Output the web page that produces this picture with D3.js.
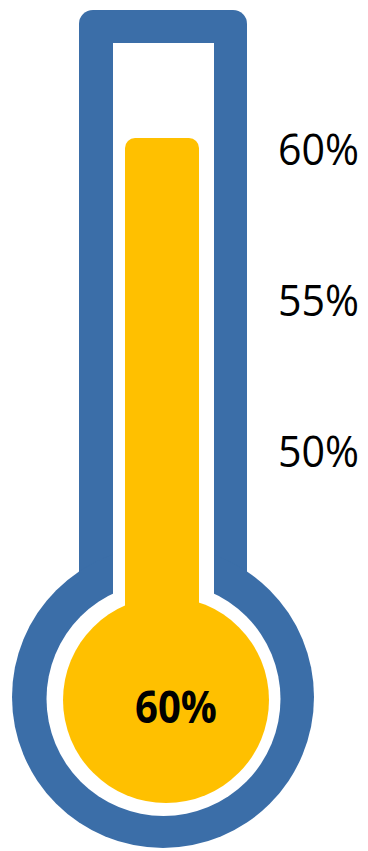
<!DOCTYPE html>
<html>
<head>
<meta charset="utf-8">
<script src="https://cdn.jsdelivr.net/npm/d3@7"></script>
<style>
  html, body { margin: 0; padding: 0; background: #fff; }
</style>
</head>
<body>
<div id="chart"></div>
<script>
// data
var tickValues = [50, 55, 60];
var tickLabels = ['50%', '55%', '60%'];
var currentValue = 60;
var currentLabel = '60%';

var width = 368,
  height = 851;

var blue = '#3b6ea8',
  yellow = '#ffc000';

var svg = d3.select('#chart')
  .append('svg')
  .attr('width', width)
  .attr('height', height);

// value scale along the tube
var yScale = d3.scaleLinear()
  .domain([50, 60])
  .range([440, 138]);

// outer blue shape: tube + bulb
svg.append('rect')
  .attr('x', 79).attr('y', 10)
  .attr('width', 168).attr('height', 640)
  .attr('rx', 14)
  .attr('fill', blue);

svg.append('circle')
  .attr('cx', 163).attr('cy', 697).attr('r', 151)
  .attr('fill', blue);

// white inside
svg.append('rect')
  .attr('x', 113).attr('y', 43)
  .attr('width', 101).attr('height', 620)
  .attr('fill', '#fff');

svg.append('circle')
  .attr('cx', 163.5).attr('cy', 699).attr('r', 117)
  .attr('fill', '#fff');

// yellow mercury
var fillTop = yScale(currentValue);

svg.append('rect')
  .attr('x', 125).attr('y', fillTop)
  .attr('width', 74).attr('height', 660 - fillTop)
  .attr('rx', 10)
  .attr('fill', yellow);

svg.append('circle')
  .attr('cx', 166).attr('cy', 700).attr('r', 103)
  .attr('fill', yellow);

// tick labels
svg.selectAll('.tick-label')
  .data(tickValues)
  .enter()
  .append('text')
  .attr('class', 'tick-label')
  .attr('x', 278)
  .attr('y', function(d) { return yScale(d) + 27; })
  .attr('font-family', 'Open Sans, sans-serif')
  .attr('font-size', 44)
  .attr('textLength', 81)
  .attr('lengthAdjust', 'spacingAndGlyphs')
  .attr('fill', '#000')
  .text(function(d, i) { return tickLabels[i]; });

// value in the bulb
svg.append('text')
  .attr('x', 176)
  .attr('y', 723)
  .attr('text-anchor', 'middle')
  .attr('font-family', 'Open Sans, sans-serif')
  .attr('font-weight', 'bold')
  .attr('font-size', 44)
  .attr('textLength', 82)
  .attr('lengthAdjust', 'spacingAndGlyphs')
  .attr('fill', '#000')
  .text(currentLabel);
</script>
</body>
</html>
